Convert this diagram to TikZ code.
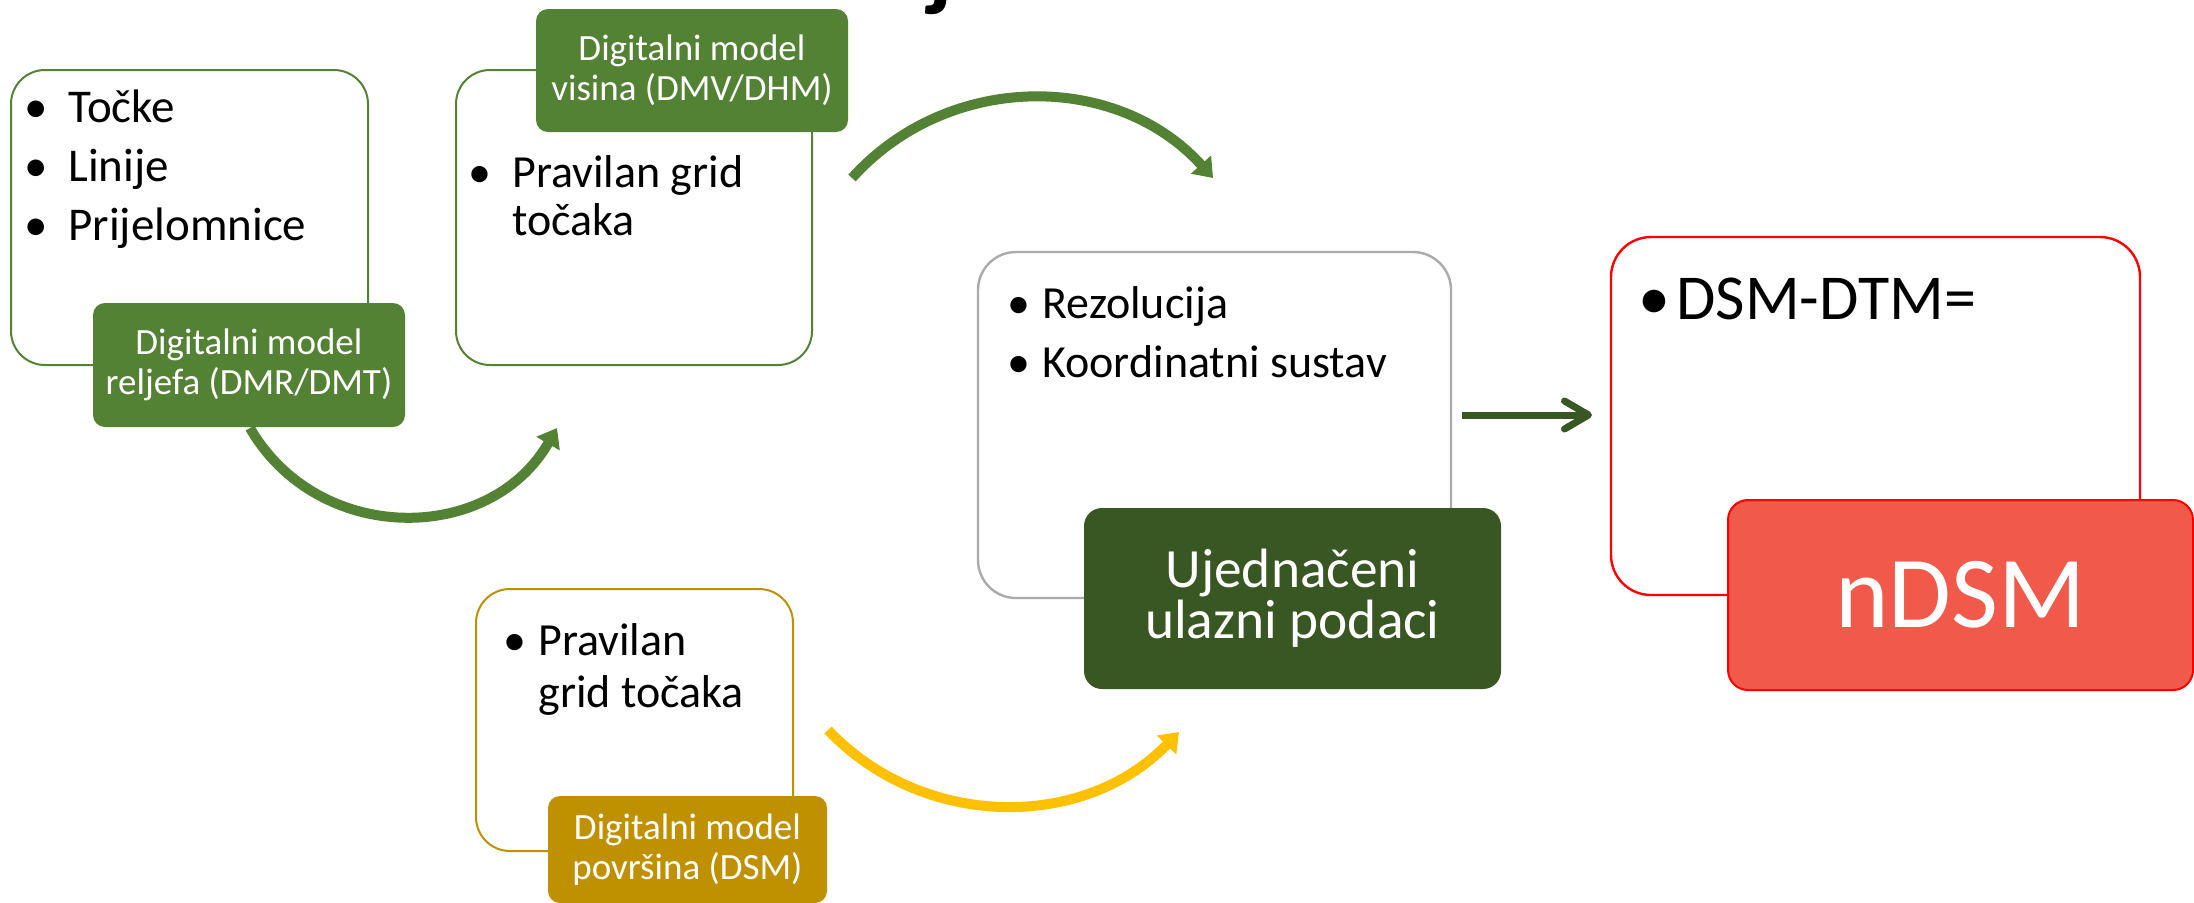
\documentclass[tikz,border=0pt]{standalone}
\usepackage{fontspec}
\setmainfont{Carlito}
\usetikzlibrary{arrows.meta}

\definecolor{smgreen}{HTML}{548235}
\definecolor{smdark}{HTML}{385723}
\definecolor{smgold}{HTML}{BF9000}
\definecolor{smyellow}{HTML}{FFC000}
\definecolor{smgray}{HTML}{ABABAB}
\definecolor{smred}{HTML}{FF0000}
\definecolor{smsalmon}{HTML}{F1594B}

\newcommand\blt[1]{\makebox[#1][l]{\textbullet}}

\begin{document}
\begin{tikzpicture}[x=0.5pt,y=0.5pt,
  outer/.style={draw, fill=white, rounded corners=17pt, line width=1pt, inner sep=0},
  tag/.style={rounded corners=6pt, inner sep=0, text=white, align=center},
  txt/.style={anchor=base west, inner sep=0, align=left},
  curved/.style={line width=5pt, -{Triangle[length=9pt,width=13pt]}}]
\useasboundingbox (0,0) rectangle (2194,-902);

% title, cut off at the top
\node[anchor=base, inner sep=0, font=\fontsize{48}{48}\selectfont\bfseries] (ttl) at (941,2) {j};

% outer boxes
\node[outer, draw=smgreen, minimum width=178.5pt, minimum height=147.5pt] (dmrbox) at (189.5,-217.5) {};
\node[outer, draw=smgreen, minimum width=178pt, minimum height=147.5pt] (dmvbox) at (634,-217.5) {};
\node[outer, draw=smgold, minimum width=158.5pt, minimum height=131pt] (dsmbox) at (634.5,-720) {};
\node[outer, draw=smgray, line width=1.2pt, rounded corners=19pt, minimum width=236.5pt, minimum height=173pt] (inbox) at (1214.5,-425) {};
\node[outer, draw=smred, line width=1.2pt, rounded corners=20pt, minimum width=264.5pt, minimum height=179pt] (ndsmbox) at (1875.5,-416) {};

% tags
\node[tag, fill=smgreen, minimum width=156pt, minimum height=62pt, font=\fontsize{18.5}{20}\selectfont] (dmr) at (249,-365) {Digitalni model\\reljefa (DMR/DMT)};
\node[tag, fill=smgreen, minimum width=156pt, minimum height=61.5pt, font=\fontsize{18.5}{20}\selectfont] (dmv) at (692,-70.5) {Digitalni model\\visina (DMV/DHM)};
\node[tag, fill=smgold, minimum width=139.5pt, minimum height=53.5pt, font=\fontsize{18.5}{20}\selectfont] (dsm) at (687.5,-849.5) {Digitalni model\\površina (DSM)};
\node[tag, fill=smdark, rounded corners=9pt, minimum width=208.5pt, minimum height=90.5pt, font=\fontsize{27.7}{25.5}\selectfont] (ujed) at (1292.5,-598.5) {Ujednačeni\\ulazni podaci};
\node[tag, fill=smsalmon, draw=smred, line width=1pt, rounded corners=10pt, minimum width=232.5pt, minimum height=95pt, font=\fontsize{51}{52}\selectfont] (ndsm) at (1960.5,-595) {nDSM};

% bullet texts (anchored at the last baseline)
\node[txt, font=\fontsize{23.5}{29.5}\selectfont] (t1) at (24,-240) {\blt{22pt}Točke\\\blt{22pt}Linije\\\blt{22pt}Prijelomnice};
\node[txt, font=\fontsize{23}{24}\selectfont] (t2) at (468,-235) {\blt{22pt}Pravilan grid\\\hspace*{22pt}točaka};
\node[txt, font=\fontsize{23}{26}\selectfont] (t3) at (503,-707) {\blt{17.5pt}Pravilan\\\hspace*{17.5pt}grid točaka};
\node[txt, font=\fontsize{23}{29.5}\selectfont] (t4) at (1007,-377) {\blt{17.5pt}Rezolucija\\\blt{17.5pt}Koordinatni sustav};
\node[txt, font=\fontsize{32}{36}\selectfont] (t5) at (1638,-319) {\blt{19pt}DSM-DTM=};

% arrows
\coordinate (a1) at (250,-428);
\coordinate (a2) at (557,-428);
\coordinate (b1) at (852,-178);
\coordinate (b2) at (1213,-178);
\coordinate (c1) at (828,-730);
\coordinate (c2) at (1179,-732);
\coordinate (d1) at (1462,-415);
\coordinate (d2) at (1592,-415);
\draw[curved, smgreen] (a1) to[out=-60, in=240, looseness=1.13] (a2);
\draw[curved, smgreen] (b1) to[out=48, in=132, looseness=1.02] (b2);
\draw[curved, smyellow] (c1) to[out=-46.5, in=226] (c2);
\draw[smdark, line width=3.5pt, -{Straight Barb[length=12pt,width=14pt,round]}] (d1) -- (d2);
\end{tikzpicture}
\end{document}
